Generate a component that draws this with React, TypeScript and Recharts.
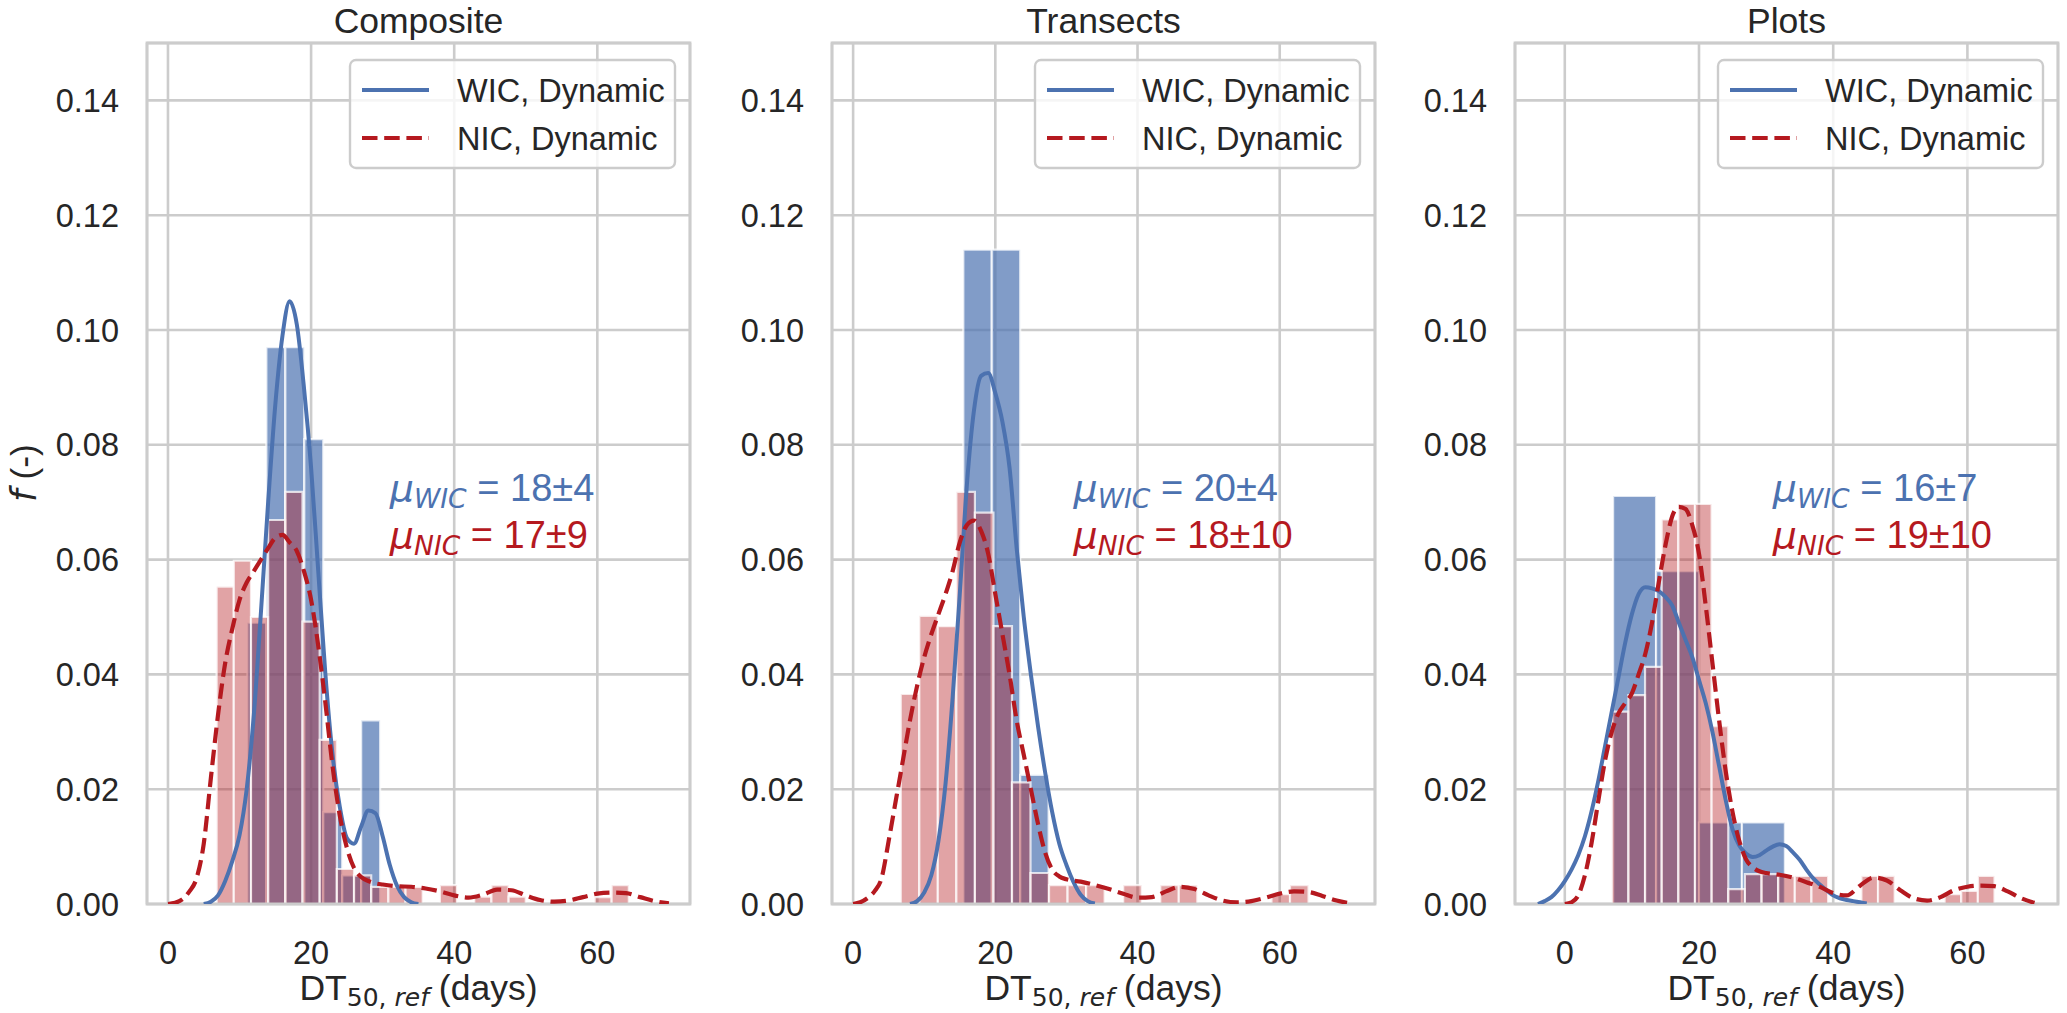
import React from "react";
import { ComposedChart, Line, XAxis, YAxis, CartesianGrid, ReferenceArea } from "recharts";

const BLUE = "#4c72b0";
const RED = "#b5191f";
const GRID = "#cccccc";
const TEXT = "#262626";
const FONT = "'Liberation Sans', Arial, sans-serif";
const MATH = "'DejaVu Sans', sans-serif";

const FIG_W = 2067;
const FIG_H = 1013;
const PLOT_TOP = 43;
const PLOT_H = 861;
const PLOT_W = 543;
const CHART_LEFT = 140;

const yTicks = [0, 0.02, 0.04, 0.06, 0.08, 0.1, 0.12, 0.14];
const xTicks = [0, 20, 40, 60];
const Y_MAX = 0.15;

const titles = ["Composite", "Transects", "Plots"];
const wicMeans = ["18±4", "20±4", "16±7"];
const nicMeans = ["17±9", "18±10", "19±10"];

// histogram bins: first left edge, bin width, heights (density)
const compWicBins = { start: 11.1, width: 2.65 };
const compWicHist = [0.049, 0.097, 0.097, 0.081, 0.016, 0.005, 0.032];
const compNicBins = { start: 6.8, width: 2.4 };
const compNicHist = [
  0.0553, 0.0598, 0.05, 0.0669, 0.0718, 0.0492, 0.0286, 0.0061, 0.005, 0.003, 0.003, 0.003, 0,
  0.0033, 0, 0.0013, 0.0033, 0.0013, 0, 0, 0, 0, 0.0012, 0.0033,
];

const tranWicBins = { start: 15.5, width: 4.0 };
const tranWicHist = [0.114, 0.114, 0.0225];
const tranNicBins = { start: 6.7, width: 2.607 };
const tranNicHist = [
  0.0366, 0.0502, 0.0484, 0.0718, 0.0682, 0.0484, 0.0212, 0.0054, 0.0033, 0.0033, 0.0033, 0,
  0.0033, 0, 0.0033, 0.0033, 0, 0, 0, 0, 0.0017, 0.0033,
];

const plotWicBins = { start: 7.2, width: 6.4 };
const plotWicHist = [0.0711, 0.058, 0.0142, 0.0142];
const plotNicBins = { start: 7.0, width: 2.48 };
const plotNicHist = [
  0.0335, 0.0364, 0.0413, 0.067, 0.0697, 0.0697, 0.031, 0.0026, 0.0052, 0.0052, 0.0049, 0.0049,
  0.0049, 0, 0, 0.0049, 0.0049, 0, 0, 0, 0.0017, 0.0023, 0.0049,
];

// kernel density curves
const compWicKdeX = [5, 6, 7, 8, 9, 10, 11, 12, 13, 14, 15, 16, 17, 18, 19, 20, 21, 22, 23, 24, 25, 26, 27, 28, 29, 30, 31, 32, 33, 34, 35];
const compWicKdeY = [0, 0.0004, 0.0015, 0.004, 0.0075, 0.012, 0.02, 0.033, 0.051, 0.07, 0.087, 0.099, 0.105, 0.101, 0.09, 0.076, 0.058, 0.04, 0.026, 0.017, 0.0115, 0.0105, 0.0135, 0.0163, 0.0158, 0.0118, 0.0068, 0.0032, 0.0012, 0.0003, 0];
const compNicKdeX = [0, 1, 2, 3, 4, 5, 6, 7, 8, 9, 10, 11, 12, 13, 14, 15, 16, 17, 18, 19, 20, 21, 22, 23, 24, 25, 26, 27, 28, 29, 30, 32, 34, 36, 38, 40, 42, 44, 46, 48, 50, 52, 54, 56, 58, 60, 62, 64, 66, 68, 70];
const compNicKdeY = [0, 0.0002, 0.0008, 0.0022, 0.0045, 0.0105, 0.022, 0.033, 0.042, 0.048, 0.053, 0.056, 0.058, 0.06, 0.062, 0.0638, 0.0643, 0.063, 0.0615, 0.058, 0.053, 0.045, 0.035, 0.024, 0.0155, 0.0098, 0.0063, 0.0047, 0.004, 0.0036, 0.0034, 0.0031, 0.003, 0.0027, 0.0022, 0.0015, 0.0011, 0.0016, 0.0025, 0.0024, 0.0015, 0.0007, 0.0004, 0.0006, 0.0012, 0.0018, 0.002, 0.0019, 0.0012, 0.0005, 0.0001];

const tranWicKdeX = [8, 9, 10, 11, 12, 13, 14, 15, 16, 17, 18, 19, 20, 21, 22, 23, 24, 25, 26, 27, 28, 29, 30, 31, 32, 33, 34];
const tranWicKdeY = [0, 0.0005, 0.002, 0.005, 0.011, 0.021, 0.036, 0.054, 0.073, 0.086, 0.092, 0.0925, 0.089, 0.084, 0.076, 0.062, 0.05, 0.04, 0.031, 0.023, 0.016, 0.0105, 0.0068, 0.0038, 0.0016, 0.0005, 0.0001];
const tranNicKdeX = [0, 1, 2, 3, 4, 5, 6, 7, 8, 9, 10, 11, 12, 13, 14, 15, 16, 17, 18, 19, 20, 21, 22, 23, 24, 25, 26, 27, 28, 29, 30, 32, 34, 36, 38, 40, 42, 44, 46, 48, 50, 52, 54, 56, 58, 60, 62, 64, 66, 68, 70];
const tranNicKdeY = [0, 0.0003, 0.001, 0.0022, 0.0045, 0.011, 0.018, 0.025, 0.032, 0.038, 0.043, 0.047, 0.0505, 0.054, 0.058, 0.063, 0.066, 0.0668, 0.065, 0.061, 0.054, 0.047, 0.04, 0.032, 0.026, 0.02, 0.014, 0.009, 0.006, 0.0048, 0.0043, 0.0039, 0.0033, 0.0026, 0.0018, 0.0011, 0.0012, 0.0022, 0.003, 0.0026, 0.0015, 0.0006, 0.0003, 0.0005, 0.0011, 0.0018, 0.0022, 0.0021, 0.0014, 0.0006, 0.0001];

const plotWicKdeX = [-4, -3, -2, -1, 0, 1, 2, 3, 4, 5, 6, 7, 8, 9, 10, 11, 12, 13, 14, 15, 16, 17, 18, 19, 20, 21, 22, 23, 24, 25, 26, 27, 28, 29, 30, 31, 32, 33, 34, 35, 36, 37, 38, 39, 40, 41, 42, 43, 44, 45];
const plotWicKdeY = [0, 0.0005, 0.0012, 0.0024, 0.004, 0.006, 0.0085, 0.0118, 0.0162, 0.0215, 0.0275, 0.0335, 0.0395, 0.0455, 0.0505, 0.054, 0.0552, 0.055, 0.0545, 0.0535, 0.052, 0.049, 0.046, 0.043, 0.039, 0.035, 0.03, 0.024, 0.018, 0.013, 0.0102, 0.0088, 0.0082, 0.0085, 0.0093, 0.01, 0.0104, 0.0101, 0.009, 0.0077, 0.006, 0.0045, 0.0034, 0.0024, 0.0015, 0.001, 0.0007, 0.0005, 0.0003, 0.0001];
const plotNicKdeX = [0, 1, 2, 3, 4, 5, 6, 7, 8, 9, 10, 11, 12, 13, 14, 15, 16, 17, 18, 19, 20, 21, 22, 23, 24, 25, 26, 27, 28, 29, 30, 32, 34, 36, 38, 40, 42, 44, 46, 48, 50, 52, 54, 56, 58, 60, 62, 64, 66, 68, 70];
const plotNicKdeY = [0, 0.0003, 0.0015, 0.005, 0.0107, 0.018, 0.025, 0.03, 0.0332, 0.035, 0.0367, 0.04, 0.0436, 0.049, 0.056, 0.0625, 0.0675, 0.0692, 0.0688, 0.066, 0.061, 0.052, 0.042, 0.032, 0.023, 0.016, 0.011, 0.0078, 0.0064, 0.0057, 0.0054, 0.0051, 0.0046, 0.0038, 0.003, 0.0019, 0.0015, 0.0032, 0.0046, 0.0041, 0.0024, 0.001, 0.0006, 0.0012, 0.0024, 0.003, 0.0032, 0.0031, 0.0022, 0.001, 0.0002];

// panel placement and x ranges
const panelLefts = [147, 832, 1515];
const panelDomains: [number, number][] = [
  [-2.93, 72.95],
  [-2.97, 73.4],
  [-7.42, 73.5],
];
const ANNOT_X = 31;

const toPoints = (xs: number[], ys: number[]) => xs.map((x, i) => ({ x, y: ys[i] }));

const toBins = (bins: { start: number; width: number }, heights: number[]) =>
  heights
    .map((h, i) => ({ x1: bins.start + i * bins.width, x2: bins.start + (i + 1) * bins.width, h }))
    .filter((b) => b.h > 0);

const panels = [
  {
    wicBins: toBins(compWicBins, compWicHist),
    nicBins: toBins(compNicBins, compNicHist),
    wicKde: toPoints(compWicKdeX, compWicKdeY),
    nicKde: toPoints(compNicKdeX, compNicKdeY),
  },
  {
    wicBins: toBins(tranWicBins, tranWicHist),
    nicBins: toBins(tranNicBins, tranNicHist),
    wicKde: toPoints(tranWicKdeX, tranWicKdeY),
    nicKde: toPoints(tranNicKdeX, tranNicKdeY),
  },
  {
    wicBins: toBins(plotWicBins, plotWicHist),
    nicBins: toBins(plotNicBins, plotNicHist),
    wicKde: toPoints(plotWicKdeX, plotWicKdeY),
    nicKde: toPoints(plotNicKdeX, plotNicKdeY),
  },
];

type Bin = { x1: number; x2: number; h: number };
type Pt = { x: number; y: number };

function Panel({ index }: { index: number }) {
  const p = panels[index];
  const [dmin, dmax] = panelDomains[index];
  const tickStyle = { fontSize: 32.5, fill: TEXT, fontFamily: FONT };
  return (
    <div style={{ position: "absolute", left: panelLefts[index] - CHART_LEFT, top: 0 }}>
      <ComposedChart
        width={CHART_LEFT + PLOT_W + 10}
        height={FIG_H}
        margin={{ top: PLOT_TOP, right: 10, bottom: 0, left: 0 }}
      >
        <CartesianGrid stroke={GRID} strokeWidth={2.6} />
        <XAxis
          type="number"
          dataKey="x"
          domain={[dmin, dmax]}
          ticks={xTicks}
          interval={0}
          allowDataOverflow
          height={FIG_H - PLOT_TOP - PLOT_H}
          tickLine={false}
          axisLine={false}
          tickSize={0}
          tickMargin={37}
          tick={tickStyle}
        />
        <YAxis
          type="number"
          domain={[0, Y_MAX]}
          ticks={yTicks}
          interval={0}
          allowDataOverflow
          width={CHART_LEFT}
          tickFormatter={(v: number) => v.toFixed(2)}
          tickLine={false}
          axisLine={false}
          tickSize={0}
          tickMargin={28}
          tick={tickStyle}
        />
        {p.wicBins.map((b: Bin, i: number) => (
          <ReferenceArea
            key={`w${i}`}
            x1={b.x1}
            x2={b.x2}
            y1={0}
            y2={b.h}
            fill={BLUE}
            fillOpacity={0.7}
            stroke="#ffffff"
            strokeOpacity={0.75}
            strokeWidth={2.2}
          />
        ))}
        {p.nicBins.map((b: Bin, i: number) => (
          <ReferenceArea
            key={`n${i}`}
            x1={b.x1}
            x2={b.x2}
            y1={0}
            y2={b.h}
            fill={RED}
            fillOpacity={0.4}
            stroke="#ffffff"
            strokeOpacity={0.75}
            strokeWidth={2.2}
          />
        ))}
        <ReferenceArea
          x1={dmin}
          x2={dmax}
          y1={0}
          y2={Y_MAX}
          fill="none"
          fillOpacity={0}
          stroke={GRID}
          strokeWidth={2.8}
        />
        <Line
          data={p.wicKde as Pt[]}
          dataKey="y"
          type="monotone"
          stroke={BLUE}
          strokeWidth={4}
          dot={false}
          activeDot={false}
          isAnimationActive={false}
        />
        <Line
          data={p.nicKde as Pt[]}
          dataKey="y"
          type="monotone"
          stroke={RED}
          strokeWidth={4.2}
          strokeDasharray="15.5 6.7"
          dot={false}
          activeDot={false}
          isAnimationActive={false}
        />
      </ComposedChart>
    </div>
  );
}

function PanelText({ index }: { index: number }) {
  const left = panelLefts[index];
  const [dmin, dmax] = panelDomains[index];
  const cx = left + PLOT_W / 2;
  const ax = left + ((ANNOT_X - dmin) / (dmax - dmin)) * PLOT_W;
  const boxRight = left + PLOT_W - 15;
  const boxLeft = boxRight - 325;
  const boxTop = PLOT_TOP + 17;
  return (
    <g>
      <text x={cx} y={33} textAnchor="middle" fontSize={35.5} fill={TEXT} fontFamily={FONT}>
        {titles[index]}
      </text>
      <text x={cx} y={1000} textAnchor="middle" fontSize={35.5} fill={TEXT} fontFamily={FONT}>
        DT
        <tspan fontSize={25} dy={6} fontFamily={MATH}>
          50,{"\u00a0"}
        </tspan>
        <tspan fontSize={25} fontFamily={MATH} fontStyle="italic">
          ref
        </tspan>
        <tspan dy={-6}>{"\u00a0(days)"}</tspan>
      </text>
      <rect
        x={boxLeft}
        y={boxTop}
        width={325}
        height={108}
        rx={6}
        fill="#ffffff"
        fillOpacity={0.8}
        stroke={GRID}
        strokeWidth={2.4}
      />
      <line x1={boxLeft + 12} x2={boxLeft + 79} y1={boxTop + 30} y2={boxTop + 30} stroke={BLUE} strokeWidth={4} />
      <line
        x1={boxLeft + 12}
        x2={boxLeft + 79}
        y1={boxTop + 78}
        y2={boxTop + 78}
        stroke={RED}
        strokeWidth={4.2}
        strokeDasharray="15.5 6.7"
      />
      <text x={boxLeft + 107} y={boxTop + 41.5} fontSize={32.5} fill={TEXT} fontFamily={FONT}>
        WIC, Dynamic
      </text>
      <text x={boxLeft + 107} y={boxTop + 89.5} fontSize={32.5} fill={TEXT} fontFamily={FONT}>
        NIC, Dynamic
      </text>
      <text x={ax} y={501} fontSize={38} fill={BLUE} fontFamily={FONT}>
        <tspan fontFamily={MATH} fontStyle="italic">
          μ
        </tspan>
        <tspan fontFamily={MATH} fontStyle="italic" fontSize={26.6} dy={7}>
          WIC
        </tspan>
        <tspan dy={-7}>{"\u00a0= " + wicMeans[index]}</tspan>
      </text>
      <text x={ax} y={548} fontSize={38} fill={RED} fontFamily={FONT}>
        <tspan fontFamily={MATH} fontStyle="italic">
          μ
        </tspan>
        <tspan fontFamily={MATH} fontStyle="italic" fontSize={26.6} dy={7}>
          NIC
        </tspan>
        <tspan dy={-7}>{"\u00a0= " + nicMeans[index]}</tspan>
      </text>
    </g>
  );
}

export default function App() {
  return (
    <div
      style={{
        position: "absolute",
        left: 0,
        top: 0,
        width: FIG_W,
        height: FIG_H,
        background: "#ffffff",
        overflow: "hidden",
      }}
    >
      {[0, 1, 2].map((i) => (
        <Panel key={i} index={i} />
      ))}
      <svg
        width={FIG_W}
        height={FIG_H}
        style={{ position: "absolute", left: 0, top: 0, pointerEvents: "none" }}
      >
        {[0, 1, 2].map((i) => (
          <PanelText key={i} index={i} />
        ))}
        <text
          transform="translate(36, 473) rotate(-90)"
          textAnchor="middle"
          fontSize={35.5}
          fill={TEXT}
          fontFamily={FONT}
        >
          <tspan fontFamily={MATH} fontStyle="italic">
            f
          </tspan>
          {"\u00a0(-)"}
        </text>
      </svg>
    </div>
  );
}
